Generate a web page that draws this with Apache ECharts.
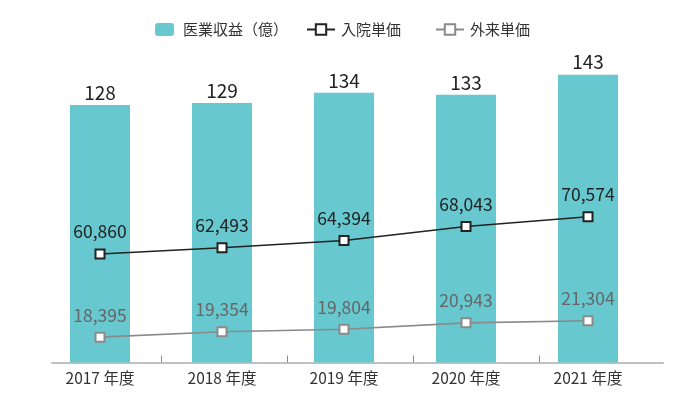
<!DOCTYPE html>
<html>
<head>
<meta charset="utf-8">
<script src="https://cdn.jsdelivr.net/npm/echarts@6/dist/echarts.min.js"></script>
<style>
html,body{margin:0;padding:0;background:#fff;}
#c{width:700px;height:393px;}
</style>
</head>
<body>
<div id="c"></div>
<script>
const categories = ['2017 年度', '2018 年度', '2019 年度', '2020 年度', '2021 年度'];
const revenue = [128, 129, 134, 133, 143];
const inpatient = [60860, 62493, 64394, 68043, 70574];
const outpatient = [18395, 19354, 19804, 20943, 21304];
const seriesNames = ['医業収益（億）', '入院単価', '外来単価'];

const FONT = '"Noto Sans CJK JP", "Noto Sans", sans-serif';
const chart = echarts.init(document.getElementById('c'), null, {renderer: 'canvas'});
const fmt = v => v.toLocaleString('en-US');

chart.setOption({
  animation: false,
  backgroundColor: '#ffffff',
  textStyle: {fontFamily: FONT},
  legend: [
    {data: [seriesNames[0]], left: 155, top: 22, padding: 0, itemWidth: 19, itemHeight: 13,
     textStyle: {fontSize: 15, color: '#333', fontFamily: FONT, padding: [0,0,0,4]}},
    {data: [seriesNames[1]], left: 306, top: 22, padding: 0, itemWidth: 28, itemHeight: 13,
     textStyle: {fontSize: 15, color: '#333', fontFamily: FONT, padding: [0,0,0,1]}},
    {data: [seriesNames[2]], left: 435, top: 22, padding: 0, itemWidth: 28, itemHeight: 13,
     textStyle: {fontSize: 15, color: '#333', fontFamily: FONT, padding: [0,0,0,1]}}
  ],
  grid: [
    {left: 39, right: 51, top: 40.5, bottom: 30.5},
    {left: 52, right: 37, top: 40.5, bottom: 30.5}
  ],
  xAxis: [
    {type: 'category', gridIndex: 0, data: categories,
     axisLine: {show: false}, axisTick: {show: false},
     axisLabel: {fontSize: 15.5, color: '#333', fontFamily: FONT, margin: 8}},
    {type: 'value', gridIndex: 1, min: 0, max: 611,
     axisLine: {show: true, lineStyle: {color: '#c0c0c0', width: 2}},
     axisTick: {show: true, inside: true, length: 7, customValues: [109, 235, 361, 487],
                lineStyle: {color: '#8c8c8c', width: 1}},
     axisLabel: {show: false}, splitLine: {show: false}}
  ],
  yAxis: [
    {type: 'value', gridIndex: 0, min: 0, max: 160, show: false, splitLine: {show: false}},
    {type: 'value', gridIndex: 0, min: 32556, max: 116550, show: false, splitLine: {show: false}},
    {type: 'value', gridIndex: 0, min: 13878, max: 71240, show: false, splitLine: {show: false}},
    {type: 'value', gridIndex: 1, min: 0, max: 1, show: false, splitLine: {show: false}}
  ],
  series: [
    {name: seriesNames[0], type: 'bar', xAxisIndex: 0, yAxisIndex: 0, data: revenue,
     barWidth: 60, itemStyle: {color: '#67c8cf'},
     label: {show: true, position: 'top', distance: 3, fontSize: 19, color: '#222', fontFamily: FONT}},
    {name: seriesNames[1], type: 'line', xAxisIndex: 0, yAxisIndex: 1, data: inpatient,
     symbol: 'rect', symbolSize: 9, z: 5,
     lineStyle: {color: '#222', width: 1.6},
     itemStyle: {color: '#ffffff', borderColor: '#222', borderWidth: 2},
     label: {show: true, position: 'top', distance: 8, fontSize: 17.5, color: '#222', fontFamily: FONT, formatter: p => fmt(p.value)}},
    {name: seriesNames[2], type: 'line', xAxisIndex: 0, yAxisIndex: 2, data: outpatient,
     symbol: 'rect', symbolSize: 9, z: 5,
     lineStyle: {color: '#8a8a8a', width: 1.6},
     itemStyle: {color: '#ffffff', borderColor: '#8a8a8a', borderWidth: 2},
     label: {show: true, position: 'top', distance: 8, fontSize: 17.5, color: '#666', fontFamily: FONT, formatter: p => fmt(p.value)}}
  ]
});
</script>
</body>
</html>
